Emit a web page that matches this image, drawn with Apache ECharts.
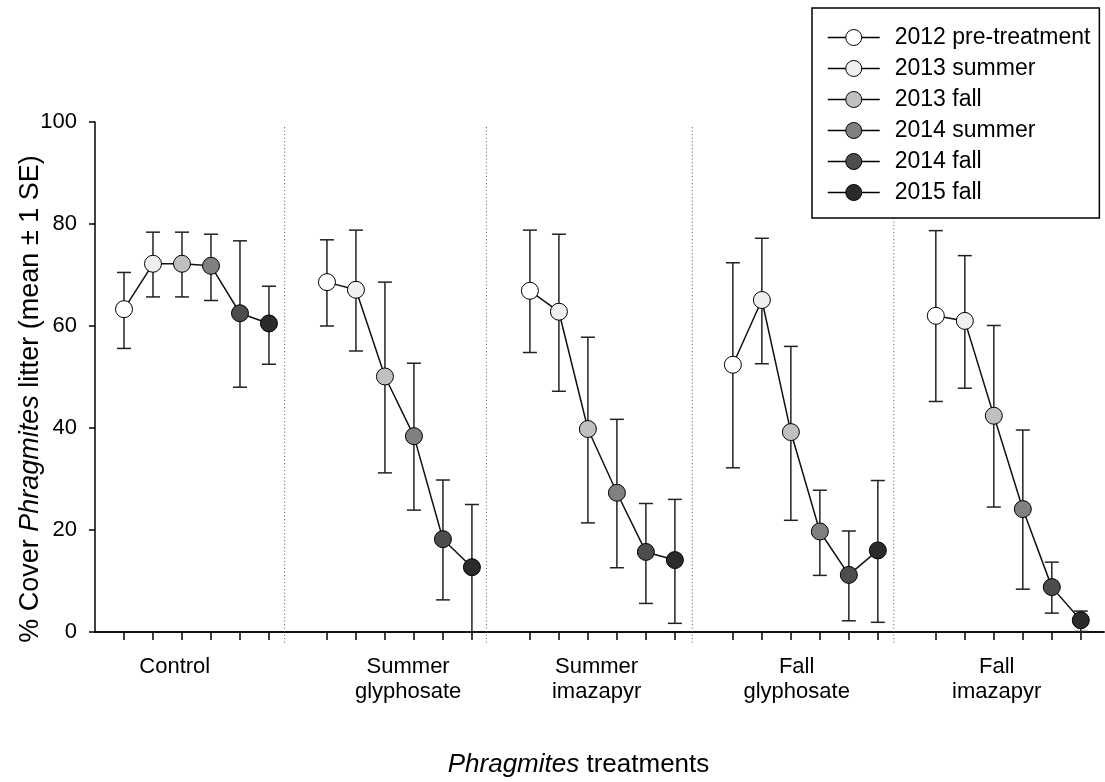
<!DOCTYPE html>
<html>
<head>
<meta charset="utf-8">
<script src="https://cdn.jsdelivr.net/npm/echarts@6/dist/echarts.min.js"></script>
<style>
  html, body { margin: 0; padding: 0; background: #fff; }
  #chart { width: 1105px; height: 782px; }
</style>
</head>
<body>
<div id="chart"></div>
<script>
// seasons (legend) and treatments (x groups)
const seasons = ['2012 pre-treatment', '2013 summer', '2013 fall', '2014 summer', '2014 fall', '2015 fall']
const treatments = ['Control', 'Summer\nglyphosate', 'Summer\nimazapyr', 'Fall\nglyphosate', 'Fall\nimazapyr']
const seasonColors = ['#ffffff', '#efefef', '#c0c0c0', '#808080', '#4d4d4d', '#2b2b2b']

// mean % cover per treatment, one value per season
const controlMean = [63.3, 72.2, 72.2, 71.8, 62.5, 60.5]
const sumGlyMean = [68.6, 67.1, 50.1, 38.4, 18.2, 12.7]
const sumImaMean = [66.9, 62.8, 39.8, 27.3, 15.7, 14.1]
const fallGlyMean = [52.4, 65.1, 39.2, 19.7, 11.2, 16.0]
const fallImaMean = [62.0, 61.0, 42.4, 24.1, 8.8, 2.3]

// upper / lower ends of the +-1 SE bars
const controlHi = [70.5, 78.4, 78.4, 78.0, 76.7, 67.8]
const sumGlyHi = [76.9, 78.8, 68.6, 52.7, 29.8, 25.0]
const sumImaHi = [78.8, 78.0, 57.8, 41.7, 25.2, 26.0]
const fallGlyHi = [72.4, 77.2, 56.0, 27.8, 19.8, 29.7]
const fallImaHi = [78.7, 73.8, 60.1, 39.6, 13.7, 4.1]

const controlLo = [55.6, 65.7, 65.7, 65.0, 48.0, 52.5]
const sumGlyLo = [60.0, 55.1, 31.2, 23.9, 6.3, 0.0]
const sumImaLo = [54.8, 47.2, 21.4, 12.6, 5.6, 1.7]
const fallGlyLo = [32.2, 52.6, 21.9, 11.1, 2.2, 1.9]
const fallImaLo = [45.2, 47.8, 24.5, 8.4, 3.7, 0.1]

const yTicks = [0, 20, 40, 60, 80, 100]

const means = [controlMean, sumGlyMean, sumImaMean, fallGlyMean, fallImaMean]
const highs = [controlHi, sumGlyHi, sumImaHi, fallGlyHi, fallImaHi]
const lows = [controlLo, sumGlyLo, sumImaLo, fallGlyLo, fallImaLo]

// x slots: 6 points per group, one empty slot between groups
const slot = (g, s) => g * 7 + s + 1
const tickPos = []
treatments.forEach((t, g) => seasons.forEach((s, i) => tickPos.push(slot(g, i))))
const labelPos = [2.75, 10.8, 17.3, 24.2, 31.1]
const dividerPos = [6.54, 13.5, 20.6, 27.55]

const font = '"Liberation Sans", Arial, sans-serif'

const series = []

// connecting lines, one per treatment
means.forEach((m, g) => {
  series.push({
    type: 'line',
    name: 'grp' + g,
    data: m.map((v, i) => [slot(g, i), v]),
    symbol: 'none',
    lineStyle: { color: '#111', width: 1.5 },
    silent: true,
    z: 2
  })
})

// error bars
const errData = []
means.forEach((m, g) => {
  m.forEach((v, i) => errData.push([slot(g, i), lows[g][i], highs[g][i]]))
})
series.push({
  type: 'custom',
  name: 'se',
  data: errData,
  encode: { x: 0, y: [1, 2] },
  silent: true,
  z: 3,
  renderItem(params, api) {
    const x = api.value(0)
    const pHi = api.coord([x, api.value(2)])
    const pLo = api.coord([x, api.value(1)])
    const w = 7
    const style = { stroke: '#222', lineWidth: 1.5 }
    return {
      type: 'group',
      children: [
        { type: 'line', shape: { x1: pHi[0], y1: pHi[1], x2: pLo[0], y2: pLo[1] }, style },
        { type: 'line', shape: { x1: pHi[0] - w, y1: pHi[1], x2: pHi[0] + w, y2: pHi[1] }, style },
        { type: 'line', shape: { x1: pLo[0] - w, y1: pLo[1], x2: pLo[0] + w, y2: pLo[1] }, style }
      ]
    }
  }
})

// dotted group dividers
series.push({
  type: 'custom',
  name: 'div',
  data: dividerPos.map(d => [d]),
  encode: { x: 0 },
  silent: true,
  clip: false,
  z: 1,
  renderItem(params, api) {
    const x = api.value(0)
    const p1 = api.coord([x, 99])
    const p2 = api.coord([x, -2.5])
    return {
      type: 'line',
      shape: { x1: p1[0], y1: p1[1], x2: p2[0], y2: p2[1] },
      style: { stroke: '#555', lineWidth: 1, lineDash: [1, 2.5] }
    }
  }
})

// markers, one series per season (these feed the legend)
seasons.forEach((name, i) => {
  series.push({
    type: 'line',
    name: name,
    data: means.map((m, g) => [slot(g, i), m[i]]),
    symbol: 'circle',
    symbolSize: 17,
    showSymbol: true,
    lineStyle: { width: 0 },
    itemStyle: { color: seasonColors[i], borderColor: '#000', borderWidth: 1 },
    z: 5
  })
})

const chart = echarts.init(document.getElementById('chart'))
chart.setOption({
  animation: false,
  backgroundColor: '#fff',
  textStyle: { fontFamily: font, color: '#000' },
  grid: { left: 95, right: 1, top: 122, bottom: 150, containLabel: false, outerBoundsMode: 'none' },
  legend: {
    data: seasons,
    orient: 'vertical',
    left: 812,
    top: 8,
    padding: [18, 9, 14, 15],
    itemWidth: 52,
    itemHeight: 20,
    itemGap: 8,
    selectedMode: false,
    backgroundColor: '#fff',
    borderColor: '#000',
    borderWidth: 1.5,
    borderRadius: 0,
    lineStyle: { color: '#000', width: 1.5 },
    itemStyle: { borderColor: '#000', borderWidth: 1 },
    textStyle: { fontFamily: font, fontSize: 23, lineHeight: 20, color: '#000', padding: [0, 0, 0, 10] }
  },
  xAxis: [
    {
      type: 'value',
      min: 0,
      max: 34.8,
      name: '{i|Phragmites}{n| treatments}',
      nameLocation: 'middle',
      nameGap: 120,
      nameMoveOverlap: false,
      nameTextStyle: {
        padding: [0, 42, 0, 0],
        rich: {
          i: { fontFamily: font, fontSize: 26, fontStyle: 'italic', color: '#000' },
          n: { fontFamily: font, fontSize: 26, color: '#000' }
        }
      },
      axisLine: { show: true, onZero: false, lineStyle: { color: '#000', width: 1.5 } },
      axisTick: { show: true, inside: false, length: 8, customValues: tickPos, lineStyle: { color: '#000', width: 1.5 } },
      axisLabel: {
        customValues: labelPos,
        margin: 22,
        fontFamily: font,
        fontSize: 22,
        lineHeight: 25,
        color: '#000',
        formatter: v => {
          const k = labelPos.findIndex(p => Math.abs(p - v) < 1e-6)
          return k >= 0 ? treatments[k] : ''
        }
      },
      splitLine: { show: false }
    },
    {
      type: 'value',
      position: 'top',
      min: 0,
      max: 34.8,
      axisLine: { show: true, lineStyle: { color: '#000', width: 1.5 } },
      axisTick: { show: false },
      axisLabel: { show: false },
      splitLine: { show: false }
    }
  ],
  yAxis: {
    type: 'value',
    min: 0,
    max: 100,
    interval: 20,
    name: '{n|% Cover }{i|Phragmites}{n| litter (mean ± 1 SE)}',
    nameLocation: 'middle',
    nameRotate: 90,
    nameGap: 51,
    nameMoveOverlap: false,
    nameTextStyle: {
      padding: [0, 44, 0, 0],
      rich: {
        i: { fontFamily: font, fontSize: 27, fontStyle: 'italic', color: '#000' },
        n: { fontFamily: font, fontSize: 27, color: '#000' }
      }
    },
    axisLine: { show: true, lineStyle: { color: '#000', width: 1.5 } },
    axisTick: { show: true, inside: false, length: 6, lineStyle: { color: '#000', width: 1.5 } },
    axisLabel: {
      margin: 18,
      fontFamily: font,
      fontSize: 22,
      color: '#000',
      customValues: yTicks
    },
    splitLine: { show: false }
  },
  series: series
})
</script>
</body>
</html>
